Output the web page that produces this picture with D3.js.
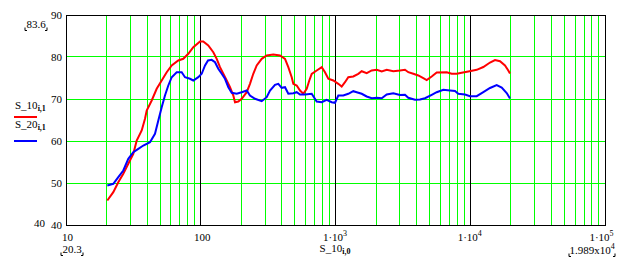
<!DOCTYPE html>
<html>
<head>
<meta charset="utf-8">
<script src="https://cdn.jsdelivr.net/npm/d3@7"></script>
<style>
html,body{margin:0;padding:0;background:#fff;}
svg{display:block;}
text{font-family:"Liberation Serif","Times New Roman",serif;font-size:11px;fill:#000;}
</style>
</head>
<body>
<svg id="chart" width="624" height="257"></svg>
<script>
// ---- data (frequency in Hz, level in dB) ----
const freqS10 = [20.43,22.63,24.65,26.85,29.24,31.86,33.76,36.77,38.9,40.05,43.62,47.51,51.75,56.36,61.4,68.7,74.84,81.5,88.8,99.6,105.3,114.7,125,132.5,140.1,148.3,157.2,166.3,176,181.1,191.6,203.1,221.2,233.9,247.5,262.4,285.8,311.3,348.4,390.7,425.6,450.3,477.3,490.5,519.8,550,582,616.6,644.6,671.6,731.5,796.8,842.9,891.9,971.4,1058,1121,1186,1255,1367,1489,1578,1719,1873,2039,2222,2420,2708,3037,3307,3499,3812,4152,4522,4791,5220,5685,6745,7345,8000,8714,9754,11260,12610,14140,15400,16770,18260,19320,19890];
const valS10 = [45.71,47.69,50.07,52.07,54.45,56.83,60,62.38,65.17,67.14,69.52,72.31,74.29,76.26,77.86,79.05,79.45,80.64,82.21,83.6,83.6,82.62,81.02,79.45,77.45,75.88,74.29,72.69,70.71,69.12,69.29,69.93,71.5,73.5,75.88,77.86,79.45,80.24,80.48,80.24,79.45,77.45,75.07,73.5,73.1,71.9,71.12,72.31,74.29,75.88,76.67,77.45,76.26,74.69,74.29,73.5,72.86,73.88,75.07,75.24,75.88,76.5,76.02,76.67,76.83,76.43,76.83,76.5,76.67,76.83,76.26,75.88,75.48,74.83,74.4,75.24,76.19,76.26,75.88,75.88,76.12,76.43,76.83,77.5,78.57,79.17,78.88,77.86,76.67,75.95];

const freqS20 = [20.43,22.63,24.65,26.85,29.24,31.86,34.7,37.8,42.37,46.14,48.84,51.75,54.73,57.93,61.4,66.87,72.83,77.06,83.93,88.8,96.7,102.5,108.5,114.2,121.6,128.7,136.1,144.3,152.6,161.6,171.2,186.5,203.1,221.2,233.9,254.9,285.8,311.3,329.4,358.7,379.6,402.3,425.6,450.3,490.5,519.8,550,599,671.6,731.5,796.8,867.7,944.9,1000,1058,1152,1255,1367,1449,1578,1719,1873,2039,2222,2420,2708,3037,3307,3499,3924,4274,4655,5220,5685,6365,7135,7771,8222,9220,10040,11260,12610,14140,15850,17270,18800,19890];
const valS20 = [49.29,49.69,51.26,52.86,55.64,57.21,58.02,58.81,59.6,61.6,64.76,67.93,70.71,73.1,75.07,76.26,76.26,75.07,74.69,74.29,75.07,75.88,77.86,79.05,79.21,78.64,77.07,75.88,74.69,72.69,71.36,71.12,71.5,71.9,70.71,69.93,69.36,70.31,71.9,73.26,73.5,72.55,72.69,71.12,71.26,71.5,70.95,70.95,71.12,69.29,69.12,69.69,69.12,68.98,70.71,70.71,71.12,71.74,71.5,71.12,70.48,70.07,70.17,70.07,70.95,71.26,70.83,70.88,70.17,69.69,69.76,70.07,70.88,71.5,72.07,71.9,71.79,71.12,70.95,70.55,70.55,71.5,72.5,73.21,72.62,71.31,70];

const xTicks = [10,100,1000,10000,100000];
const xTickMain = ["10","100","1·10","1·10","1·10"];
const xTickSup = ["","","3","4","5"];
const yTicks = [40,50,60,70,80,90];
const gridY = [50,60,70,80];
const seriesNames = ["S_10","S_20"];
const seriesSub = ["i,1","i,1"];
const seriesColors = ["#ff0000","#0000ff"];
const xAxisName = "S_10";
const xAxisSub = "i,0";
const markerYTop = "83.6";
const markerYBottom = "40";
const markerXLeft = "20.3";
const markerXRight = "1.989x10";
const markerXRightSup = "4";

// ---- layout ----
const L = 65.5, R = 604.5, T = 14.5, B = 224.5;
const svg = d3.select("#chart");
const x = d3.scaleLog().domain([10,100000]).range([L,R]);
const y = d3.scaleLinear().domain([40,90]).range([B,T]);
const px = v => Math.round(x(v)) + 0.5;
const py = v => Math.round(y(v)) + 0.5;

// grid: minor verticals
const minor = [];
[10,100,1000,10000].forEach(d => { for (let k=2;k<=9;k++) minor.push(k*d); });
const g = svg.append("g").attr("shape-rendering","crispEdges");
g.selectAll("line.vm").data(minor).enter().append("line")
  .attr("x1",d=>px(d)).attr("x2",d=>px(d)).attr("y1",py(90)).attr("y2",py(40))
  .attr("stroke","#00ff00").attr("stroke-width",1);
g.selectAll("line.hm").data(gridY).enter().append("line")
  .attr("x1",px(10)).attr("x2",px(100000)).attr("y1",d=>py(d)).attr("y2",d=>py(d))
  .attr("stroke","#00ff00").attr("stroke-width",1);
g.selectAll("line.vM").data(xTicks.slice(1,4)).enter().append("line")
  .attr("x1",d=>px(d)).attr("x2",d=>px(d)).attr("y1",py(90)).attr("y2",py(40))
  .attr("stroke","#000").attr("stroke-width",1);
g.append("rect").attr("x",px(10)).attr("y",py(90))
  .attr("width",px(100000)-px(10)).attr("height",py(40)-py(90))
  .attr("fill","none").attr("stroke","#000").attr("stroke-width",1);

// curves
const line = d3.line().x(d=>x(d[0])).y(d=>y(d[1]));
const dataS10 = freqS10.map((f,i)=>[f,valS10[i]]);
const dataS20 = freqS20.map((f,i)=>[f,valS20[i]]);
[dataS10,dataS20].forEach((d,i)=>{
  svg.append("path").datum(d).attr("d",line).attr("fill","none")
    .attr("stroke",seriesColors[i]).attr("stroke-width",2).attr("stroke-linejoin","miter");
});

// y tick labels
svg.selectAll("text.yt").data(yTicks).enter().append("text")
  .attr("x",L-3.5).attr("y",d=>y(d)+4).attr("text-anchor","end").text(d=>d);

// x tick labels
xTicks.forEach((v,i)=>{
  const t = svg.append("text").attr("y",241).attr("text-anchor","middle");
  let xx = x(v) + (xTickSup[i] ? 0 : 2);
  if (i===4) xx = x(v)-3;
  t.attr("x",xx);
  t.append("tspan").text(xTickMain[i]);
  if (xTickSup[i]) t.append("tspan").attr("dy",-5).attr("font-size","8px").text(xTickSup[i]);
});

// x axis name
const xn = svg.append("text").attr("x",335).attr("y",252).attr("text-anchor","middle");
xn.append("tspan").text(xAxisName);
xn.append("tspan").attr("dy",2).attr("font-size","8px").attr("font-weight","bold").text(xAxisSub);

// legend
seriesNames.forEach((n,i)=>{
  const ty = 109 + i*19;
  const t = svg.append("text").attr("x",15).attr("y",ty);
  t.append("tspan").text(n);
  t.append("tspan").attr("dy",2).attr("font-size","8px").attr("font-weight","bold").text(seriesSub[i]);
  svg.append("line").attr("x1",14).attr("x2",37).attr("y1",ty+8).attr("y2",ty+8)
    .attr("stroke",seriesColors[i]).attr("stroke-width",2);
});
// fix legend line positions to reference
svg.selectAll("line").filter(function(){return +this.getAttribute("x1")===14;})
  .each(function(d,i){ const yy=[117,141][i]; d3.select(this).attr("y1",yy).attr("y2",yy); });

// marker labels with small corner brackets
function marker(txt, sup, cx, cy, w) {
  const t = svg.append("text").attr("x",cx).attr("y",cy).attr("text-anchor","middle");
  t.append("tspan").text(txt);
  if (sup) t.append("tspan").attr("dy",-5).attr("font-size","8px").text(sup);
  const l = cx - w/2, r = cx + w/2, b = cy + 2.5;
  svg.append("path").attr("d",`M${l+2},${b}H${l}V${b-3}`).attr("fill","none").attr("stroke","#000").attr("stroke-width",1);
  svg.append("path").attr("d",`M${r-2},${b}H${r}V${b-3}`).attr("fill","none").attr("stroke","#000").attr("stroke-width",1);
}
marker(markerYTop,"",36,28,22);
svg.append("text").attr("x",45).attr("y",227).attr("text-anchor","end").text(markerYBottom);
marker(markerXLeft,"",72,253,22);
marker(markerXRight,markerXRightSup,592,254,46);
</script>
</body>
</html>
